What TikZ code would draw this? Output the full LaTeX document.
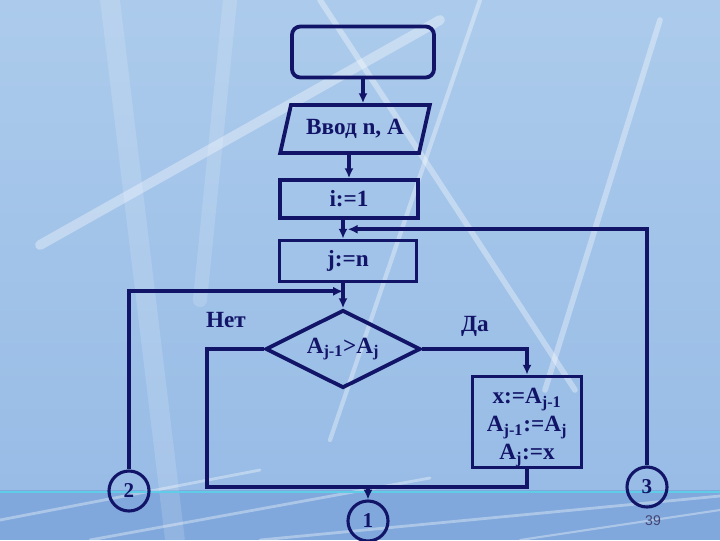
\documentclass[tikz,border=0pt]{standalone}
\usepackage{fontspec}
\setmainfont{Liberation Serif}
\newfontfamily\pagefont{Liberation Sans}
\usepackage{tikz}
\usetikzlibrary{shapes.geometric,arrows.meta}
\definecolor{navy}{RGB}{18,20,104}
\definecolor{bgtop}{RGB}{172,203,236}
\definecolor{bgbot}{RGB}{152,188,230}
\definecolor{band}{RGB}{128,168,220}
\definecolor{cyanline}{RGB}{96,205,232}

\begin{document}
\begin{tikzpicture}[x=0.025cm, y=-0.025cm,
  box/.style = {draw=navy, line width=2.7pt, inner sep=0pt, text=navy, align=center, font=\bfseries\fontsize{16.5}{20}\selectfont},
  conn/.style = {box, circle, line width=2.2pt, minimum size=1cm, font=\bfseries\fontsize{15}{18}\selectfont},
  wire/.style = {draw=navy, line width=2.7pt},
  arr/.style = {wire, -{Latex[length=7pt,width=6.5pt]}},
  lbl/.style = {text=navy, font=\bfseries\fontsize{16.5}{20}\selectfont},
  streak/.style = {white, opacity=0.35, line cap=round}]
% background
\useasboundingbox (0,0) rectangle (720,540);
\shade[top color=bgtop, bottom color=bgbot] (0,0) rectangle (720,490);
\fill[band] (0,490) rectangle (720,540);
\draw[streak, line width=7pt] (40,245) -- (440,20); \draw[streak, line width=4pt] (320,0) -- (575,390);
\draw[streak, line width=3pt] (480,0) -- (330,440); \draw[streak, line width=4pt] (660,20) -- (545,390);
\draw[streak, line width=14pt, opacity=0.15] (110,0) -- (175,540); \draw[streak, line width=10pt, opacity=0.15] (230,0) -- (200,300);
\draw[streak, line width=2pt] (0,520) -- (260,470); \draw[streak, line width=2pt] (90,540) -- (430,478);
\draw[streak, line width=2pt] (260,540) -- (720,496); \draw[streak, line width=1.5pt] (520,540) -- (720,510);
\draw[cyanline, line width=1.5pt] (0,492) -- (720,492);
% blocks
\node[box, rounded corners=6pt, minimum width=3.55cm, minimum height=1.275cm](0) at (363,52) {};
\node[box, trapezium, trapezium stretches=true, trapezium left angle=67, trapezium right angle=113, minimum width=3.75cm, minimum height=1.2cm](1) at (355,129) {Ввод n, A};
\node[box, minimum width=3.45cm, minimum height=0.95cm](2) at (349,199) {i:=1};
\node[box, minimum width=3.425cm, minimum height=1.025cm](3) at (348,261) {j:=n};
\node[box, diamond, aspect=2, minimum width=3.875cm, minimum height=1.95cm](4) at (343,349) {A\textsubscript{j-1}>A\textsubscript{j}};
\node[box, minimum width=2.725cm, minimum height=2.275cm](5) at (527,422) {\rule{0pt}{19pt}x:=A\textsubscript{j-1}\\A\textsubscript{j-1}:=A\textsubscript{j}\\A\textsubscript{j}:=x};
\node[conn](6) at (368,521) {1}; \node[conn](7) at (129,491) {2}; \node[conn](8) at (647,487) {3};
\node[lbl](9) at (226,320) {Нет}; \node[lbl](10) at (475,326) {Да};
\node[text=navy!55!gray, font=\pagefont\fontsize{10}{12}\selectfont](11) at (653,521) {39};
% connectors
\path (2.south -| 4) -- coordinate[midway](a) (3.north -| 4); \path (3.south -| 4) -- coordinate[pos=0.32](b) (4.north);
\coordinate (c) at (207,487);
\draw[arr] (0) -- (0 |- 1.north); \draw[arr] (1.south -| 2) -- (2);
\draw[arr] (2.south -| 4) -- (3.north -| 4); \draw[arr] (8) |- ([xshift=0.12cm]a);
\draw[arr] (3.south -| 4) -- (4); \draw[arr] (7) |- (b);
\draw[arr] (4.east) -| (5);
\draw[wire] (4.west) -| (c) -- (c -| 5) -- (5.south); \draw[arr] (c -| 6) -- (6);
\end{tikzpicture}
\end{document}
